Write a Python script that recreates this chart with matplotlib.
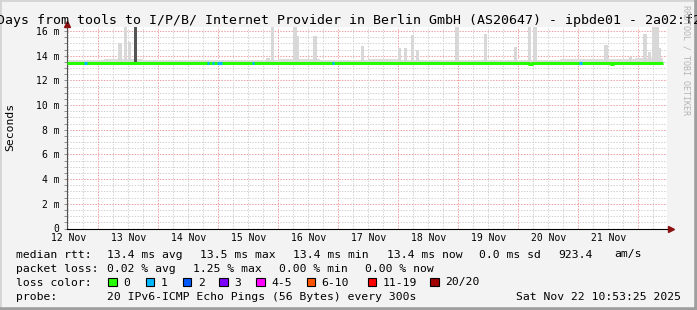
import matplotlib
matplotlib.use("Agg")
import matplotlib.pyplot as plt
import numpy as np
from matplotlib.lines import Line2D
from matplotlib.patches import Rectangle

W, H = 697, 310

# x is day of November 2025 (10 days ending Nov 22 10:53)
x_min, x_max = 12.478, 22.478
y_max = 16.33

# light smoke band around the median (step segments, ms)
band_edges = [12.478, 13.10, 13.75, 14.60, 15.20, 16.00, 16.70, 17.50, 18.00,
              18.70, 19.40, 20.10, 20.70, 21.30, 21.95, 22.41]
band_lo = [13.30, 13.31, 13.30, 13.30, 13.31, 13.30, 13.30, 13.31, 13.30,
           13.30, 13.31, 13.28, 13.30, 13.29, 13.30]
band_hi = [13.62, 13.72, 13.66, 13.62, 13.68, 13.75, 13.64, 13.70, 13.66,
           13.62, 13.68, 13.64, 13.70, 13.74, 13.78]

# single samples where the pings spread upwards (day, top in ms)
spike_day = [13.36, 13.45, 13.52, 15.83, 15.90, 16.28, 16.31, 16.61, 17.40,
             18.02, 18.12, 18.24, 18.32, 18.98, 19.45, 19.95, 20.19, 20.28,
             21.46, 21.87, 22.11, 22.19, 22.25, 22.31, 22.35]
spike_top = [15.0, 16.3, 15.1, 13.8, 16.3, 16.3, 15.6, 15.6, 14.8,
             14.6, 14.6, 15.7, 14.5, 16.3, 15.75, 14.7, 16.3, 16.3,
             14.9, 13.9, 15.75, 14.3, 16.3, 16.3, 14.6]
dark_day = [13.62]
dark_top = [16.33]

# median rtt (steps)
med_day = [12.478, 20.18, 20.22, 21.55, 21.58, 22.41]
med_ms = [13.40, 13.32, 13.40, 13.33, 13.40, 13.40]

# samples with packet loss (start, end, lost pings)
loss_start = [12.76, 14.81, 14.90, 14.98, 15.56, 16.90, 21.01]
loss_end = [12.81, 14.85, 14.93, 15.06, 15.59, 16.93, 21.06]
loss_count = [1, 1, 1, 1, 1, 1, 1]

loss_labels = ['0', '1', '2', '3', '4-5', '6-10', '11-19', '20/20']
loss_colors = ['#26ff00', '#00b8ff', '#0059ff', '#7e00ff', '#ff00ff',
               '#ff5500', '#ff0000', '#a10000']

y_ticks = [0, 2, 4, 6, 8, 10, 12, 14, 16]
y_labels = ['0', '2 m', '4 m', '6 m', '8 m', '10 m', '12 m', '14 m', '16 m']
x_ticks = [12.5, 13.5, 14.5, 15.5, 16.5, 17.5, 18.5, 19.5, 20.5, 21.5]
x_labels = ['12 Nov', '13 Nov', '14 Nov', '15 Nov', '16 Nov', '17 Nov',
            '18 Nov', '19 Nov', '20 Nov', '21 Nov']

title = ("Days from tools to I/P/B/ Internet Provider in Berlin GmbH "
         "(AS20647) - ipbde01 - 2a02:f2")
rtt_items = ['13.4 ms avg', '13.5 ms max', '13.4 ms min', '13.4 ms now',
             '0.0 ms sd', '923.4', 'am/s']
loss_items = ['0.02 % avg', '1.25 % max', '0.00 % min', '0.00 % now']
probe_text = '20 IPv6-ICMP Echo Pings (56 Bytes) every 300s'
stamp = 'Sat Nov 22 10:53:25 2025'

MONO = 'DejaVu Sans Mono'
BG = '#f3f3f3'


def fx(px):
    return px / W


def fy(py):
    return 1 - py / H


fig = plt.figure(figsize=(W / 100, H / 100), dpi=100, facecolor=BG)
ax = fig.add_axes([fx(67), fy(228.5), 600 / W, 201.5 / H])
ax.set_facecolor('white')
ax.set_xlim(x_min, x_max)
ax.set_ylim(0, y_max)

# grid: minor every 0.5 ms / 6 h, major every 2 ms / day
dots = (0, (1.4, 1.4))
for v in np.arange(0.5, y_max, 0.5):
    major = v % 2 == 0
    ax.axhline(v, color='#f0a0a0' if major else '#d2d2d2', lw=0.72,
               ls=dots, zorder=0)
for d in np.arange(12.5, x_max, 0.25):
    if d <= x_min + 0.01:
        continue
    major = d % 1 == 0
    ax.axvline(d, color='#f0a0a0' if major else '#d2d2d2', lw=0.72,
               ls=dots, zorder=0)

# smoke
widths = np.diff(band_edges)
ax.bar(band_edges[:-1], np.array(band_hi) - np.array(band_lo), width=widths,
       bottom=band_lo, align='edge', color='#dcdcdc', lw=0, zorder=1)
ax.bar(spike_day, np.array(spike_top) - 13.45, width=0.055, bottom=13.45,
       color='#d8d8d8', lw=0, zorder=1)
ax.bar(dark_day, np.array(dark_top) - 13.45, width=0.05, bottom=13.45,
       color='#555555', lw=0, zorder=1)

# median line, coloured by loss
ax.step(med_day, med_ms, where='post', color=loss_colors[0], lw=2.2,
        solid_capstyle='butt', zorder=3)
for s, e, n in zip(loss_start, loss_end, loss_count):
    ax.hlines(13.40, s, e, color=loss_colors[n], lw=2.2, zorder=4)

# axes
for side in ['top', 'right']:
    ax.spines[side].set_visible(False)
ax.spines['left'].set_color('#505050')
ax.spines['bottom'].set_color('black')
ax.spines['left'].set_linewidth(0.8)
ax.spines['bottom'].set_linewidth(0.8)
ax.plot(0, 1 + 3 / 201.5, marker='^', ms=5, color='#8b1010',
        transform=ax.transAxes, clip_on=False, zorder=5)
ax.plot(1 + 3.5 / 600, 0, marker='>', ms=5, color='#8b1010',
        transform=ax.transAxes, clip_on=False, zorder=5)

ax.set_yticks(y_ticks, y_labels, family=MONO, fontsize=7)
ax.set_yticks(np.arange(0, y_max, 0.5), minor=True)
ax.tick_params(axis='y', which='both', length=2.5, width=0.7,
               color='#909090', pad=3)
ax.set_xticks(x_ticks, x_labels, family=MONO, fontsize=7)
ax.tick_params(axis='x', length=0, pad=3.5)

fig.text(fx(10), fy(127), 'Seconds', rotation=90, ha='center', va='center',
         family=MONO, fontsize=8.2)

fig.text(fx(-3), fy(24), title, ha='left', va='baseline', family=MONO,
         fontsize=9.5)
fig.text(fx(686), fy(5), 'RRDTOOL / TOBI OETIKER', rotation=270,
         ha='center', va='top', family=MONO, fontsize=6, color='#b4b4b4')

# legend
lfs = 8.2
rows = [257.5, 271.5, 285.5, 299.5]
fig.text(fx(16), fy(rows[0]), 'median rtt:', va='baseline', family=MONO,
         fontsize=lfs)
for item, px in zip(rtt_items, [107, 200, 293, 386.5, 479, 558, 614]):
    fig.text(fx(px), fy(rows[0]), item, va='baseline', family=MONO,
             fontsize=lfs)
fig.text(fx(16), fy(rows[1]), 'packet loss:', va='baseline', family=MONO,
         fontsize=lfs)
for item, px in zip(loss_items, [107, 193.3, 279.3, 365]):
    fig.text(fx(px), fy(rows[1]), item, va='baseline', family=MONO,
             fontsize=lfs)
fig.text(fx(16), fy(rows[2]), 'loss color:', va='baseline', family=MONO,
         fontsize=lfs)
box_x = [108, 145.7, 182.7, 219.3, 256, 306.7, 367.5, 430]
for lab, col, px in zip(loss_labels, loss_colors, box_x):
    fig.add_artist(Rectangle((fx(px), fy(286)), 8.5 / W, 8.5 / H,
                             transform=fig.transFigure, facecolor=col,
                             edgecolor='black', lw=0.8))
    fig.text(fx(px + 15), fy(rows[2]), lab, va='baseline', family=MONO,
             fontsize=lfs)
fig.text(fx(16), fy(rows[3]), 'probe:', va='baseline', family=MONO,
         fontsize=lfs)
fig.text(fx(107), fy(rows[3]), probe_text, va='baseline', family=MONO,
         fontsize=lfs)
fig.text(fx(680.5), fy(rows[3]), stamp, ha='right', va='baseline',
         family=MONO, fontsize=lfs)

# 3d frame
fig.add_artist(Line2D([0, 0, 1], [0, 1, 1], transform=fig.transFigure,
                      color='#d4d4d4', lw=2))
fig.add_artist(Line2D([0, 1, 1], [0, 0, 1], transform=fig.transFigure,
                      color='#9e9e9e', lw=4))

fig.savefig('out.png', dpi=100, facecolor=BG)
